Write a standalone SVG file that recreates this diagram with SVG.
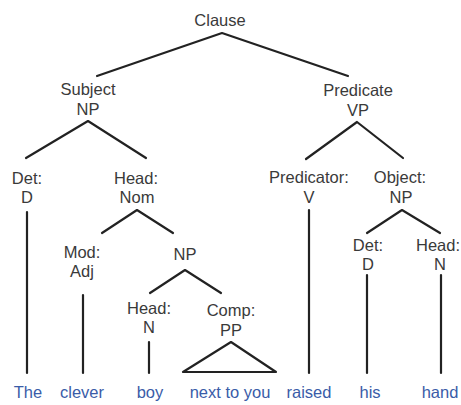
<svg xmlns="http://www.w3.org/2000/svg" width="461" height="405" viewBox="0 0 461 405">
<style>
text{font-family:"Liberation Sans",Arial,sans-serif;font-size:16.5px;fill:#3a3a3a;text-anchor:middle}
text.w{fill:#3a5ca8}
#edges line,#edges polyline,#edges polygon{stroke:#222;stroke-width:2.2;fill:none;stroke-linecap:round;stroke-linejoin:round}
</style>
<rect width="461" height="405" fill="#fff"/>
<g id="edges">
<polyline points="97,76 222,33 348,76"/>
<polyline points="26,158 88,121 146,158"/>
<polyline points="306,159 357,122 403,158"/>
<line x1="27" y1="212" x2="27" y2="373"/>
<line x1="309" y1="210" x2="309" y2="373"/>
<polyline points="102,233 137,210 173,233"/>
<polyline points="367,233 402,210 440,233"/>
<line x1="83" y1="295" x2="83" y2="373"/>
<polyline points="150,293 185,270 221,293"/>
<line x1="149" y1="342" x2="149" y2="373"/>
<polygon points="231,342 183,372 276,372"/>
<line x1="367" y1="275" x2="367" y2="373"/>
<line x1="441" y1="275" x2="441" y2="373"/>
</g>
<g id="clause"><text x="220" y="26">Clause</text></g>
<g id="subject"><text x="88" y="95">Subject</text><text x="88" y="115">NP</text></g>
<g id="predicate"><text x="358" y="96">Predicate</text><text x="358" y="116">VP</text></g>
<g id="det1"><text x="27" y="184">Det:</text><text x="27" y="203">D</text></g>
<g id="headnom"><text x="136" y="184">Head:</text><text x="137" y="203">Nom</text></g>
<g id="predicator"><text x="309" y="183">Predicator:</text><text x="309" y="203">V</text></g>
<g id="object"><text x="400" y="183">Object:</text><text x="401" y="203">NP</text></g>
<g id="mod"><text x="82" y="258">Mod:</text><text x="82" y="277">Adj</text></g>
<g id="np2"><text x="185" y="260">NP</text></g>
<g id="det2"><text x="368" y="251">Det:</text><text x="368" y="270">D</text></g>
<g id="head3"><text x="438" y="251">Head:</text><text x="440" y="270">N</text></g>
<g id="head2"><text x="149" y="314">Head:</text><text x="149" y="333">N</text></g>
<g id="comp"><text x="231" y="316">Comp:</text><text x="231" y="336">PP</text></g>
<g id="words">
<text class="w" x="28" y="398">The</text>
<text class="w" x="82" y="398">clever</text>
<text class="w" x="150" y="398">boy</text>
<text class="w" x="230" y="398">next to you</text>
<text class="w" x="309" y="398">raised</text>
<text class="w" x="370" y="398">his</text>
<text class="w" x="440" y="398">hand</text>
</g>
</svg>
